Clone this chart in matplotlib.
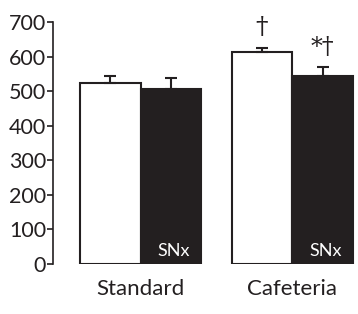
import numpy as np
import matplotlib.pyplot as plt

groups = ["Standard", "Cafeteria"]
control = [525, 612]
control_err = [20, 13]
snx = [506, 543]
snx_err = [32, 27]
marks_control = ["", "†"]
marks_snx = ["", "*†"]

plt.rcParams["font.family"] = ["Lato", "DejaVu Sans"]
ink = "#231f20"

fig = plt.figure(figsize=(3.58, 3.14), dpi=100)
ax = fig.add_axes([0.148, 0.159, 0.846, 0.771])

x = np.array([0, 2.5])
w = 1.0
ebar = dict(ecolor=ink, elinewidth=1.5, capsize=4, capthick=1.5)
ax.bar(x, control, w, color="white", edgecolor=ink, linewidth=1.5,
       yerr=[np.zeros(2), control_err], error_kw=ebar)
ax.bar(x + w, snx, w, color=ink, edgecolor=ink, linewidth=1.5,
       yerr=[np.zeros(2), snx_err], error_kw=ebar)

for xi, v, e, m in zip(x, control, control_err, marks_control):
    if m:
        ax.text(xi, v + e + 26, m, ha="center", va="bottom", fontsize=18, color=ink,
                family=["DejaVu Serif"])
for xi, v, e, m in zip(x + w, snx, snx_err, marks_snx):
    if m:
        ax.text(xi, v + e + 24, m, ha="center", va="bottom", fontsize=17, color=ink,
                family=["DejaVu Serif"])
    ax.text(xi + 0.05, 16, "SNx", ha="center", va="bottom", fontsize=13, color="white")

ax.set_xlim(-0.946, 4.05)
ax.set_ylim(0, 700)
ax.set_yticks(range(0, 701, 100))
ax.set_xticks(x + w / 2)
ax.set_xticklabels(groups, fontsize=16, color=ink)
ax.tick_params(axis="x", length=0, pad=11)
ax.tick_params(axis="y", labelsize=15.5, length=4, width=1.2, pad=1, colors=ink)
for s in ["top", "right", "bottom"]:
    ax.spines[s].set_visible(False)
ax.spines["left"].set_linewidth(1.2)
ax.spines["left"].set_color(ink)

fig.savefig("out.png", dpi=100)
